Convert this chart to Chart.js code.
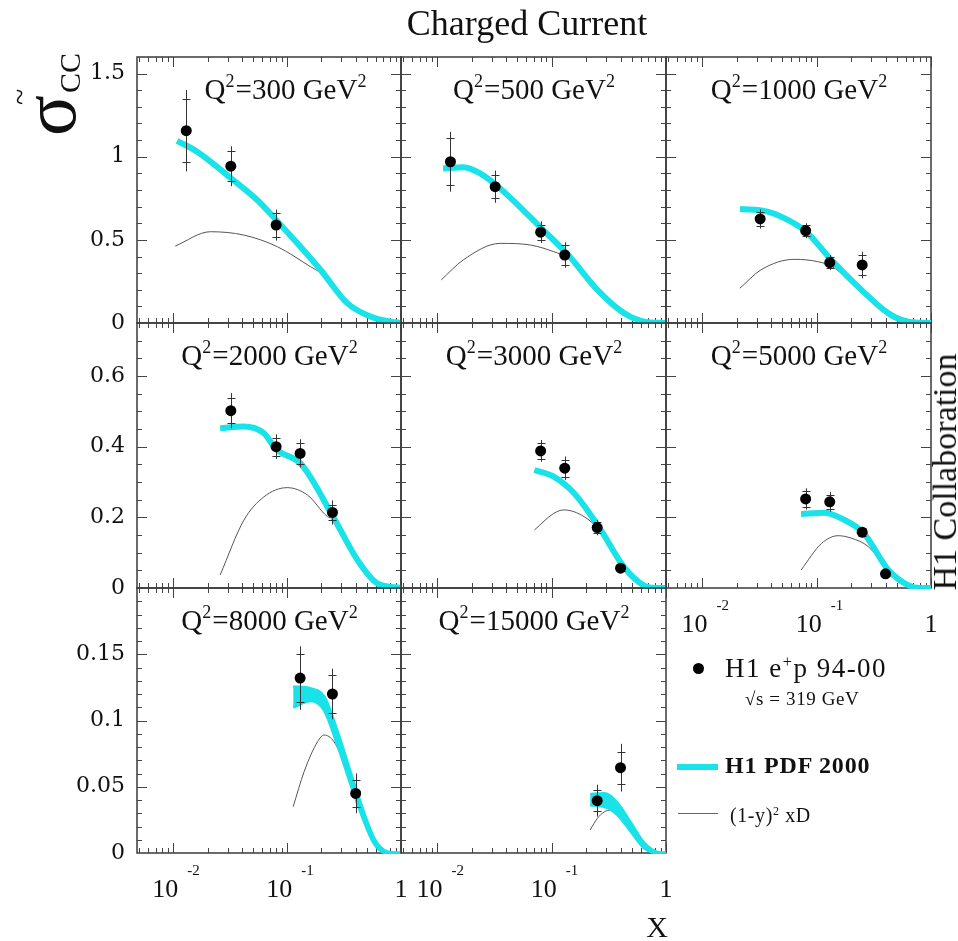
<!DOCTYPE html>
<html><head><meta charset="utf-8"><title>Charged Current</title>
<script src="https://cdn.jsdelivr.net/npm/chart.js@4.4.1/dist/chart.umd.min.js"></script>
<style>
html,body{margin:0;padding:0;background:#fff;}
body{width:958px;height:941px;position:relative;overflow:hidden;font-family:'Liberation Serif','Times New Roman',serif;color:#111;}
canvas.panel{position:absolute;left:0;top:0;}
.txt{position:absolute;white-space:nowrap;}
.sup{position:relative;font-size:0.6em;top:-0.6em;}
</style></head><body>
<div id="charts"></div>

<div class="txt" style="left:527px;top:5px;transform:translateX(-50%);font-size:36px;line-height:36px;">Charged Current</div>

<div class="txt" style="left:0;top:136px;transform-origin:0 0;transform:rotate(-90deg);width:120px;height:90px;">
  <span class="txt" style="left:0;top:11px;font-size:76px;line-height:76px;">σ</span>
  <span class="txt" style="left:31px;top:5px;font-size:30px;line-height:30px;">~</span>
  <span class="txt" style="left:43px;top:55px;font-size:30px;line-height:30px;">CC</span>
</div>

<div class="txt" style="left:657px;top:912px;transform:translateX(-50%);font-size:30px;line-height:30px;">X</div>

<div class="txt" style="left:945px;top:472px;transform:translate(-50%,-50%) rotate(-90deg);font-size:34px;line-height:34px;">H1 Collaboration</div>

<!-- legend -->
<div class="txt" style="left:693px;top:663px;width:11px;height:11px;border-radius:50%;background:#000;"></div>
<div class="txt" style="left:725px;top:655px;font-size:27px;line-height:27px;letter-spacing:1.5px;">H1 e<span class="sup">+</span>p 94-00</div>
<div class="txt" style="left:745px;top:689px;font-size:19px;line-height:19px;letter-spacing:0.6px;">√s = 319 GeV</div>
<div class="txt" style="left:677px;top:764px;width:41px;height:6px;background:rgb(25,226,232);"></div>
<div class="txt" style="left:725px;top:753px;font-size:24px;line-height:24px;font-weight:bold;letter-spacing:0.8px;">H1 PDF 2000</div>
<div class="txt" style="left:678px;top:813px;width:40px;height:1px;background:#666;"></div>
<div class="txt" style="left:730px;top:805px;font-size:20px;line-height:20px;letter-spacing:0.6px;">(1-y)<span class="sup">2</span> xD</div>

<script>
// ================= DATA =================
const Q2_VALUES = [300, 500, 1000, 2000, 3000, 5000, 8000, 15000];

// Q2 = 300
const q300_x = [0.013, 0.032, 0.08];
const q300_sigma = [1.157, 0.943, 0.589];
const q300_errTot = [0.245, 0.12, 0.093];
const q300_errStat = [0.19, 0.09, 0.07];
const q300_pdfX = [0.0108, 0.0162, 0.032, 0.0546, 0.08, 0.123, 0.197, 0.339, 0.545, 0.817, 1.0];
const q300_pdf  = [1.096, 1.03, 0.872, 0.74, 0.62, 0.479, 0.319, 0.118, 0.038, 0.008, 0.0];
const q300_xdX = [0.0104, 0.0212, 0.0416, 0.082, 0.16, 0.197, 0.339, 0.545, 0.817, 1.0];
const q300_xd  = [0.463, 0.549, 0.529, 0.459, 0.339, 0.30, 0.112, 0.036, 0.007, 0.0];

// Q2 = 500
const q500_x = [0.013, 0.032, 0.08, 0.13];
const q500_sigma = [0.970, 0.820, 0.546, 0.409];
const q500_errTot = [0.18, 0.097, 0.065, 0.077];
const q500_errStat = [0.14, 0.07, 0.045, 0.06];
const q500_pdfX = [0.0112, 0.0169, 0.0236, 0.034, 0.084, 0.139, 0.252, 0.433, 0.65, 1.0];
const q500_pdf  = [0.930, 0.937, 0.900, 0.82, 0.56, 0.41, 0.198, 0.058, 0.008, 0.0];
const q500_xdX = [0.0108, 0.0168, 0.0354, 0.065, 0.104, 0.139, 0.252, 0.433, 0.65, 1.0];
const q500_xd  = [0.259, 0.379, 0.479, 0.469, 0.429, 0.39, 0.19, 0.055, 0.007, 0.0];

// Q2 = 1000
const q1000_x = [0.032, 0.08, 0.13, 0.25];
const q1000_sigma = [0.626, 0.555, 0.363, 0.349];
const q1000_errTot = [0.058, 0.045, 0.045, 0.08];
const q1000_errStat = [0.04, 0.032, 0.032, 0.06];
const q1000_pdfX = [0.0213, 0.037, 0.0558, 0.082, 0.136, 0.247, 0.424, 0.63, 1.0];
const q1000_pdf  = [0.686, 0.67, 0.62, 0.545, 0.375, 0.198, 0.058, 0.008, 0.0];
const q1000_xdX = [0.0213, 0.0324, 0.0637, 0.102, 0.136, 0.247, 0.424, 0.63, 1.0];
const q1000_xd  = [0.209, 0.319, 0.383, 0.369, 0.34, 0.19, 0.055, 0.007, 0.0];

// Q2 = 2000
const q2000_x = [0.032, 0.08, 0.13, 0.25];
const q2000_sigma = [0.502, 0.400, 0.381, 0.214];
const q2000_errTot = [0.05, 0.035, 0.04, 0.034];
const q2000_errStat = [0.035, 0.025, 0.03, 0.022];
const q2000_pdfX = [0.0258, 0.0417, 0.0625, 0.08, 0.133, 0.253, 0.415, 0.62, 1.0];
const q2000_pdf  = [0.452, 0.457, 0.438, 0.393, 0.35, 0.202, 0.079, 0.013, 0.0];
const q2000_xdX = [0.0258, 0.0417, 0.0625, 0.1, 0.151, 0.226, 0.253, 0.415, 0.62, 1.0];
const q2000_xd  = [0.037, 0.192, 0.258, 0.284, 0.263, 0.202, 0.195, 0.075, 0.012, 0.0];

// Q2 = 3000
const q3000_x = [0.08, 0.13, 0.25, 0.40];
const q3000_sigma = [0.388, 0.339, 0.171, 0.056];
const q3000_errTot = [0.031, 0.033, 0.022, 0.014];
const q3000_errStat = [0.022, 0.024, 0.015, 0.009];
const q3000_pdfX = [0.0705, 0.104, 0.157, 0.264, 0.433, 0.65, 0.8, 1.0];
const q3000_pdf  = [0.334, 0.315, 0.268, 0.168, 0.058, 0.006, 0.0, 0.0];
const q3000_xdX = [0.0705, 0.104, 0.128, 0.192, 0.264, 0.433, 0.65, 0.8, 1.0];
const q3000_xd  = [0.164, 0.211, 0.221, 0.202, 0.162, 0.054, 0.004, 0.0, 0.0];

// Q2 = 5000
const q5000_x = [0.08, 0.13, 0.25, 0.40];
const q5000_sigma = [0.252, 0.244, 0.158, 0.040];
const q5000_errTot = [0.03, 0.028, 0.015, 0.008];
const q5000_errStat = [0.022, 0.02, 0.011, 0.005];
const q5000_pdfX = [0.073, 0.117, 0.164, 0.258, 0.424, 0.63, 0.8, 1.0];
const q5000_pdf  = [0.209, 0.213, 0.197, 0.155, 0.051, 0.008, 0.0, 0.0];
const q5000_xdX = [0.073, 0.11, 0.154, 0.201, 0.283, 0.424, 0.63, 0.8, 1.0];
const q5000_xd  = [0.051, 0.126, 0.148, 0.141, 0.117, 0.049, 0.007, 0.0, 0.0];

// Q2 = 8000 (band)
const q8000_x = [0.13, 0.25, 0.40];
const q8000_sigma = [0.132, 0.120, 0.045];
const q8000_errTot = [0.024, 0.019, 0.015];
const q8000_errStat = [0.018, 0.014, 0.010];
const q8000_pdfX  = [0.113, 0.161, 0.211, 0.277, 0.40, 0.582, 0.76, 1.0];
const q8000_pdfHi = [0.1255, 0.124, 0.118, 0.0915, 0.0488, 0.011, 0.001, 0.0];
const q8000_pdfLo = [0.110, 0.115, 0.108, 0.0815, 0.041, 0.007, 0.0, 0.0];
const q8000_xdX = [0.113, 0.141, 0.185, 0.211, 0.258, 0.339, 0.40, 0.582, 0.76, 1.0];
const q8000_xd  = [0.035, 0.0614, 0.084, 0.089, 0.084, 0.061, 0.043, 0.009, 0.001, 0.0];

// Q2 = 15000 (band)
const q15000_x = [0.25, 0.40];
const q15000_sigma = [0.0395, 0.0644];
const q15000_errTot = [0.012, 0.018];
const q15000_errStat = [0.008, 0.012];
const q15000_pdfX  = [0.217, 0.288, 0.378, 0.495, 0.648, 0.85, 1.0];
const q15000_pdfHi = [0.0442, 0.045, 0.0374, 0.0224, 0.0073, 0.0005, 0.0];
const q15000_pdfLo = [0.0362, 0.035, 0.0287, 0.016, 0.0035, 0.0, 0.0];
const q15000_xdX = [0.217, 0.251, 0.288, 0.33, 0.378, 0.495, 0.648, 0.85, 1.0];
const q15000_xd  = [0.0174, 0.0262, 0.031, 0.0325, 0.030, 0.018, 0.005, 0.0003, 0.0];

// axes / ticks
const X_MIN = 0.0048, X_MAX = 1;
const rowYMax = [1.6, 0.75, 0.2];
const yTickValues = [[0, 0.5, 1, 1.5], [0, 0.2, 0.4, 0.6], [0, 0.05, 0.1, 0.15]];
const yTickLabels = [['0', '0.5', '1', '1.5'], ['0', '0.2', '0.4', '0.6'], ['0', '0.05', '0.1', '0.15']];
const yMajorStep = [0.5, 0.2, 0.05];
const yMinorStep = [0.1, 0.05, 0.01];
const xTickValues = [0.01, 0.1, 1];
const xTickBase = ['10', '10', '1'];
const xTickExp = ['-2', '-1', ''];

// ================= LAYOUT =================
const W = 958, H = 941;
const COL_EDGES = [137, 401, 666, 931];
const ROW_EDGES = [57, 323, 588, 853];
const CYAN = 'rgb(25,226,232)';
const FRAME = '#3a3a3a';

const panels = [
  {q: 300,  row: 0, col: 0, x: q300_x,  s: q300_sigma,  et: q300_errTot,  es: q300_errStat,  pdfX: q300_pdfX,  pdf: q300_pdf,  xdX: q300_xdX,  xd: q300_xd,  dx: 16},
  {q: 500,  row: 0, col: 1, x: q500_x,  s: q500_sigma,  et: q500_errTot,  es: q500_errStat,  pdfX: q500_pdfX,  pdf: q500_pdf,  xdX: q500_xdX,  xd: q500_xd},
  {q: 1000, row: 0, col: 2, x: q1000_x, s: q1000_sigma, et: q1000_errTot, es: q1000_errStat, pdfX: q1000_pdfX, pdf: q1000_pdf, xdX: q1000_xdX, xd: q1000_xd},
  {q: 2000, row: 1, col: 0, x: q2000_x, s: q2000_sigma, et: q2000_errTot, es: q2000_errStat, pdfX: q2000_pdfX, pdf: q2000_pdf, xdX: q2000_xdX, xd: q2000_xd},
  {q: 3000, row: 1, col: 1, x: q3000_x, s: q3000_sigma, et: q3000_errTot, es: q3000_errStat, pdfX: q3000_pdfX, pdf: q3000_pdf, xdX: q3000_xdX, xd: q3000_xd},
  {q: 5000, row: 1, col: 2, x: q5000_x, s: q5000_sigma, et: q5000_errTot, es: q5000_errStat, pdfX: q5000_pdfX, pdf: q5000_pdf, xdX: q5000_xdX, xd: q5000_xd},
  {q: 8000, row: 2, col: 0, x: q8000_x, s: q8000_sigma, et: q8000_errTot, es: q8000_errStat, pdfX: q8000_pdfX, pdfHi: q8000_pdfHi, pdfLo: q8000_pdfLo, xdX: q8000_xdX, xd: q8000_xd},
  {q: 15000,row: 2, col: 1, x: q15000_x,s: q15000_sigma,et: q15000_errTot,es: q15000_errStat,pdfX: q15000_pdfX,pdfHi: q15000_pdfHi,pdfLo: q15000_pdfLo,xdX: q15000_xdX,xd: q15000_xd}
];

function pts(xs, ys) { return xs.map((x, i) => ({x: x, y: ys[i]})); }

function drawRich(ctx, parts, cx, base, fam, size) {
  let w = 0; const ws = [];
  parts.forEach(([t, sup]) => { ctx.font = (sup ? size * 0.62 : size) + 'px ' + fam; const m = ctx.measureText(t).width; ws.push(m); w += m; });
  let x = cx - w / 2;
  ctx.textAlign = 'left'; ctx.textBaseline = 'alphabetic';
  parts.forEach(([t, sup], i) => {
    ctx.font = (sup ? size * 0.62 : size) + 'px ' + fam;
    ctx.fillText(t, x, sup ? base - size * 0.40 : base);
    x += ws[i] + (sup ? 1 : 0);
  });
}

function makeDeco(p) {
  return {
    id: 'deco' + p.q,
    beforeDatasetsDraw(chart) {
      const ctx = chart.ctx, a = chart.chartArea, xs = chart.scales.x, ys = chart.scales.y;
      ctx.save();
      ctx.strokeStyle = FRAME; ctx.lineWidth = 1.5;
      ctx.strokeRect(a.left, a.top, a.right - a.left, a.bottom - a.top);
      ctx.lineWidth = 1; ctx.strokeStyle = '#444';
      ctx.beginPath();
      for (let e = -3; e <= 0; e++) for (let m = 1; m <= 9; m++) {
        const v = m * Math.pow(10, e);
        if (v < X_MIN * 0.999 || v > X_MAX * 1.001) continue;
        const px = Math.round(xs.getPixelForValue(v)) + 0.5;
        const L = m === 1 ? 10 : 5;
        ctx.moveTo(px, a.bottom); ctx.lineTo(px, a.bottom - L);
        ctx.moveTo(px, a.top); ctx.lineTo(px, a.top + L);
      }
      const st = yMinorStep[p.row], mj = yMajorStep[p.row];
      for (let k = 1; k * st < ys.max - 1e-9; k++) {
        const v = k * st;
        const py = Math.round(ys.getPixelForValue(v)) + 0.5;
        const isMaj = Math.abs(v / mj - Math.round(v / mj)) < 1e-6;
        const L = isMaj ? 10 : 5;
        ctx.moveTo(a.left, py); ctx.lineTo(a.left + L, py);
        ctx.moveTo(a.right, py); ctx.lineTo(a.right - L, py);
      }
      ctx.stroke();
      ctx.restore();
    },
    beforeDatasetDraw(chart, args) {
      if (args.index !== 0) return;
      const ctx = chart.ctx, xs = chart.scales.x, ys = chart.scales.y;
      ctx.save();
      ctx.strokeStyle = '#333'; ctx.lineWidth = 1;
      ctx.beginPath();
      p.x.forEach((xv, i) => {
        const px = Math.round(xs.getPixelForValue(xv)) + 0.5;
        const y1 = ys.getPixelForValue(p.s[i] + p.et[i]);
        const y2 = ys.getPixelForValue(p.s[i] - p.et[i]);
        ctx.moveTo(px, y1); ctx.lineTo(px, y2);
        [p.s[i] + p.es[i], p.s[i] - p.es[i]].forEach(v => {
          const py = Math.round(ys.getPixelForValue(v)) + 0.5;
          ctx.moveTo(px - 4, py); ctx.lineTo(px + 4, py);
        });
      });
      ctx.stroke();
      ctx.restore();
    },
    afterDraw(chart) {
      const ctx = chart.ctx, a = chart.chartArea, xs = chart.scales.x, ys = chart.scales.y;
      ctx.save();
      ctx.fillStyle = '#111';
      // panel label
      drawRich(ctx, [['Q', 0], ['2', 1], ['=' + p.q + ' GeV', 0], ['2', 1]],
               (a.left + a.right) / 2 + (p.dx || 0), a.top + 42, "'Liberation Serif'", 29);
      // y tick labels
      if (p.col === 0) {
        ctx.font = "22px 'DejaVu Serif'";
        ctx.textAlign = 'right'; ctx.textBaseline = 'middle';
        yTickValues[p.row].forEach((v, i) => {
          ctx.fillText(yTickLabels[p.row][i], a.left - 12, ys.getPixelForValue(v));
        });
      }
      // x tick labels
      if (p.row === 2 || (p.row === 1 && p.col === 2)) {
        xTickValues.forEach((v, i) => {
          const px = xs.getPixelForValue(v);
          ctx.textBaseline = 'alphabetic';
          if (xTickExp[i]) {
            ctx.font = "26px 'Liberation Serif'"; ctx.textAlign = 'right';
            ctx.fillText(xTickBase[i], px + 5, a.bottom + 44);
            ctx.font = "15px 'Liberation Serif'"; ctx.textAlign = 'left';
            ctx.fillText(xTickExp[i], px + 14, a.bottom + 22);
          } else {
            ctx.font = "26px 'Liberation Serif'"; ctx.textAlign = 'center';
            ctx.fillText(xTickBase[i], px, a.bottom + 44);
          }
        });
      }
      ctx.restore();
    }
  };
}

const holder = document.getElementById('charts');
panels.forEach(p => {
  const cv = document.createElement('canvas');
  cv.className = 'panel'; cv.width = W; cv.height = H;
  cv.style.width = W + 'px'; cv.style.height = H + 'px';
  holder.appendChild(cv);
  const L = COL_EDGES[p.col], R = COL_EDGES[p.col + 1], T = ROW_EDGES[p.row], B = ROW_EDGES[p.row + 1];
  const ds = [{
    label: 'H1 e+p 94-00 (Q2=' + p.q + ')', data: pts(p.x, p.s), showLine: false,
    pointRadius: 5.5, pointBackgroundColor: '#000', pointBorderColor: '#000', pointBorderWidth: 0, clip: 8
  }];
  if (p.pdf) {
    ds.push({label: 'H1 PDF 2000', data: pts(p.pdfX, p.pdf), showLine: true, borderColor: CYAN, borderWidth: 6,
             pointRadius: 0, cubicInterpolationMode: 'monotone', clip: 1, fill: false});
  } else {
    ds.push({label: 'H1 PDF 2000 up', data: pts(p.pdfX, p.pdfHi), showLine: true, borderColor: CYAN, borderWidth: 3,
             pointRadius: 0, cubicInterpolationMode: 'monotone', clip: 1, fill: '+1', backgroundColor: CYAN});
    ds.push({label: 'H1 PDF 2000 low', data: pts(p.pdfX, p.pdfLo), showLine: true, borderColor: CYAN, borderWidth: 3,
             pointRadius: 0, cubicInterpolationMode: 'monotone', clip: 1, fill: false});
  }
  ds.push({label: '(1-y)^2 xD', data: pts(p.xdX, p.xd), showLine: true, borderColor: '#555', borderWidth: 1,
           pointRadius: 0, cubicInterpolationMode: 'monotone', clip: 1, fill: false});
  new Chart(cv, {
    type: 'scatter',
    data: {datasets: ds},
    options: {
      responsive: false, animation: false, devicePixelRatio: 1, events: [],
      layout: {padding: {left: L, top: T, right: W - R, bottom: H - B}, autoPadding: false},
      plugins: {legend: {display: false}, tooltip: {enabled: false}, title: {display: false}},
      scales: {
        x: {type: 'logarithmic', min: X_MIN, max: X_MAX, display: false},
        y: {type: 'linear', min: 0, max: rowYMax[p.row], display: false}
      }
    },
    plugins: [makeDeco(p)]
  });
});
</script>
</body></html>
